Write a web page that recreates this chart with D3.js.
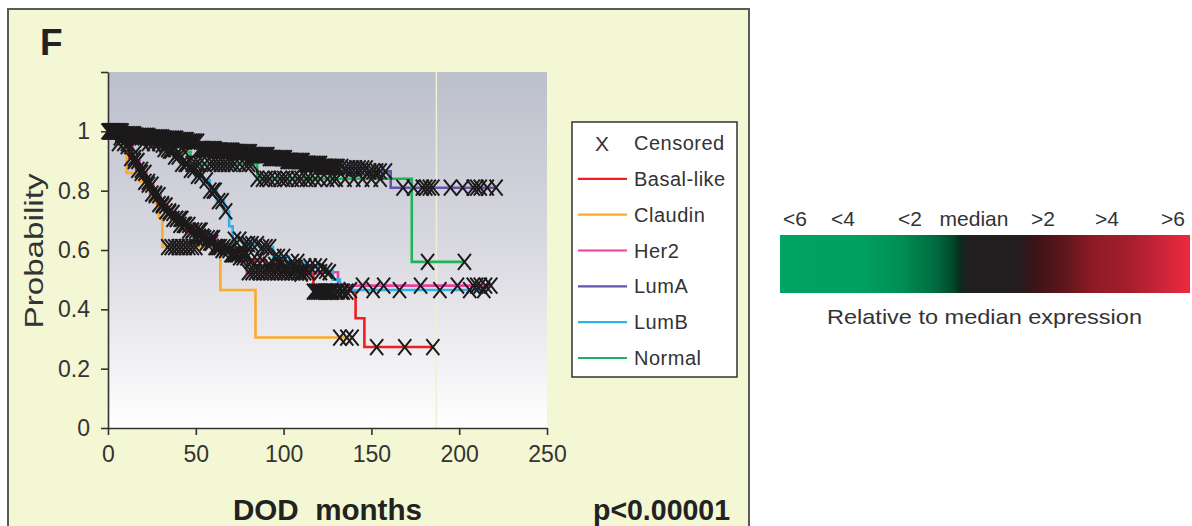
<!DOCTYPE html>
<html>
<head>
<meta charset="utf-8">
<script src="https://cdn.jsdelivr.net/npm/d3@7"></script>
<style>
  body { margin: 0; background: #fff; }
  svg { display: block; font-family: "Liberation Sans", Arial, sans-serif; }
  text { white-space: pre; }
</style>
</head>
<body>
<div id="chart"></div>
<script>
// Kaplan-Meier steps: [months, probability]
const basalSteps = [[0,1],[8,0.96],[12,0.91],[16,0.87],[20,0.83],[24,0.79],[28,0.755],[32,0.73],[36,0.705],[40,0.685],[45,0.665],[50,0.645],[55,0.625],[60,0.61],[65,0.6],[70,0.585],[75,0.575],[80,0.565],[90,0.55],[100,0.54],[110,0.52],[117,0.46],[141,0.37],[146,0.273]];
const claudinSteps = [[0,1],[5,0.96],[10.6,0.86],[18,0.83],[22,0.8],[26,0.76],[29,0.71],[31,0.61],[64,0.465],[84,0.305]];
const her2Steps = [[0,1],[6,0.98],[10,0.95],[14,0.9],[18,0.86],[22,0.82],[26,0.785],[30,0.75],[34,0.725],[38,0.705],[43,0.685],[48,0.665],[55,0.64],[62,0.61],[70,0.585],[79,0.525],[131,0.48]];
const lumASteps = [[0,1],[8,0.99],[16,0.985],[24,0.98],[32,0.975],[40,0.97],[46,0.965],[52,0.94],[62,0.935],[72,0.93],[82,0.92],[92,0.91],[102,0.9],[112,0.89],[122,0.88],[135,0.875],[148,0.865],[161,0.81]];
const lumBSteps = [[0,1],[8,0.99],[16,0.98],[24,0.97],[30,0.955],[34,0.935],[38,0.915],[42,0.89],[46,0.87],[50,0.85],[54,0.835],[58,0.8],[62,0.765],[66,0.73],[69,0.68],[71,0.635],[78,0.62],[86,0.61],[94,0.577],[103,0.56],[112,0.545],[122,0.53],[128,0.5],[132,0.465]];
const normalSteps = [[0,1],[10,0.98],[20,0.96],[30,0.94],[39,0.93],[47,0.89],[85,0.84],[173,0.56]];

// last follow-up time of each group
const endTimes = [185, 139, 218, 221, 214, 203];

// censored times (months)
const basalCens = [2,4,6,9,11,13,15,17,19,21,23,25,27,29,31,33,35,37,39,41,43,44,46,48,50,52,54,56,58,59,61,63,65,67,69,71,73,75,77,79,82,85,88,92,95,98,101,104,107,110,117,118,119,120,121,122,123,124,125,126,127,128,130,131,133,134,136,153,169,185];
const claudinCens = [2,6,34,36,38,40,42,44,46,48,50,132,136,139];
const her2Cens = [1,3,5,7,9,11,13,15,17,19,21,23,25,27,29,31,33,35,37,39,41,42,44,46,48,50,52,53,55,57,59,60,62,64,66,68,70,72,74,76,78,80,82,84,86,88,90,92,94,96,98,100,102,104,106,108,110,112,114,121,126,145,157,178,199,208,210,212,215,218];
const lumACens = [0,1,2,3,4,5,6,7,8,9,10,11,12,13,14,15,16,17,18,19,20,21,22,23,24,25,26,27,28,29,30,31,32,33,34,35,36,37,38,39,40,41,42,43,44,45,46,47,48,49,50,51,52,53,54,55,56,57,58,59,60,61,62,63,64,65,66,67,68,69,70,71,72,73,74,75,76,77,78,79,80,81,82,83,84,85,86,87,88,89,90,91,92,93,94,95,96,97,98,99,100,101,102,103,104,105,106,107,108,109,110,111,112,113,114,115,116,117,118,119,120,121,122,123,124,125,126,127,128,129,130,131,133,135,137,139,141,143,145,147,149,151,153,155,158,168,174,179,181,183,185,195,202,208,210,212,216,221];
const lumBCens = [1,3,5,7,9,11,13,15,17,19,22,25,27,29,31,33,35,36,38,40,42,44,45,47,49,51,53,56,58,60,61,63,65,67,72,75,78,80,82,85,88,90,92,95,97,100,105,108,112,115,118,121,124,138,151,166,189,206,214];
const normalCens = [1,3,5,8,11,14,17,20,23,26,29,32,34,36,38,40,44,48,50,52,55,58,60,62,64,66,68,70,72,75,78,80,82,85,88,90,92,95,98,100,102,105,108,110,113,115,118,121,125,128,130,135,140,145,150,155,182,203];

const groups = ["Basal-like", "Claudin", "Her2", "LumA", "LumB", "Normal"];
const xTicks = [0, 50, 100, 150, 200, 250];
const yTicks = [0, 0.2, 0.4, 0.6, 0.8, 1, 1.2];
const colorLabels = ["<6", "<4", "<2", "median", ">2", ">4", ">6"];
const colorValues = [-6, -4, -2, 0, 2, 4, 6];

const allSteps = [basalSteps, claudinSteps, her2Steps, lumASteps, lumBSteps, normalSteps];
const allCens = [basalCens, claudinCens, her2Cens, lumACens, lumBCens, normalCens];
const groupColors = ["#f21d23", "#fbab2b", "#ef3f9c", "#6651ae", "#2ab4ee", "#1db45a"];

const width = 1192, height = 526;

const svg = d3.select("#chart").append("svg")
  .attr("width", width)
  .attr("height", height);

const defs = svg.append("defs");

const bgGrad = defs.append("linearGradient")
  .attr("id", "plotbg").attr("x1", 0).attr("y1", 0).attr("x2", 0).attr("y2", 1);
bgGrad.append("stop").attr("offset", 0).attr("stop-color", "#bcc0cc");
bgGrad.append("stop").attr("offset", 0.5).attr("stop-color", "#d9d9e0");
bgGrad.append("stop").attr("offset", 1).attr("stop-color", "#ffffff");

const cbGrad = defs.append("linearGradient")
  .attr("id", "cbar").attr("x1", 0).attr("y1", 0).attr("x2", 1).attr("y2", 0);
[[0, "#00a462"], [0.2, "#00a060"], [0.3, "#008d53"], [0.38, "#006a3f"], [0.42, "#004a2c"],
 [0.44, "#0d2a1c"], [0.46, "#231f20"], [0.58, "#231f20"], [0.62, "#3a1418"], [0.7, "#62161d"],
 [0.76, "#8c1a24"], [0.86, "#a81f2f"], [0.94, "#d02539"], [1, "#ef2a3d"]]
  .forEach(s => cbGrad.append("stop").attr("offset", s[0]).attr("stop-color", s[1]));

// panel
svg.append("rect")
  .attr("x", 8).attr("y", 9).attr("width", 741).attr("height", 560)
  .attr("fill", "#f3f7d3").attr("stroke", "#5a5a5a").attr("stroke-width", 2);

svg.append("text")
  .attr("x", 40).attr("y", 55)
  .attr("font-size", 37).attr("font-weight", "bold").attr("fill", "#222")
  .text("F");

const x = d3.scaleLinear().domain([0, 250]).range([108, 547]);
const y = d3.scaleLinear().domain([0, 1.2]).range([428, 72]);

svg.append("rect")
  .attr("x", x(0)).attr("y", y(1.2))
  .attr("width", x(250) - x(0)).attr("height", y(0) - y(1.2))
  .attr("fill", "url(#plotbg)");

svg.append("line")
  .attr("x1", x(187)).attr("x2", x(187)).attr("y1", y(1.2)).attr("y2", y(0))
  .attr("stroke", "#eef0d6").attr("stroke-width", 1.5);

const yAxis = svg.append("g")
  .attr("transform", `translate(${x(0)},0)`)
  .call(d3.axisLeft(y).tickValues(yTicks).tickSize(7).tickSizeOuter(0).tickPadding(11)
    .tickFormat(d => d === 1.2 ? "" : d3.format("~g")(d)));

const xAxis = svg.append("g")
  .attr("transform", `translate(0,${y(0)})`)
  .call(d3.axisBottom(x).tickValues(xTicks).tickSize(7).tickSizeOuter(0).tickPadding(11));

[xAxis, yAxis].forEach(g => {
  g.select(".domain").attr("stroke", "#333").attr("stroke-width", 1.6);
  g.selectAll(".tick line").attr("stroke", "#333").attr("stroke-width", 1.6);
  g.selectAll(".tick text").attr("font-size", 23).attr("fill", "#333")
    .attr("font-family", "'Liberation Sans', Arial, sans-serif");
});

const line = d3.line()
  .x(d => x(d[0]))
  .y(d => y(d[1]))
  .curve(d3.curveStepAfter);

const survAt = (steps, t) => steps[d3.bisector(d => d[0]).right(steps, t) - 1][1];

allSteps.forEach((steps, i) => {
  const pts = steps.concat([[endTimes[i], steps[steps.length - 1][1]]]);
  svg.append("path")
    .attr("d", line(pts))
    .attr("fill", "none")
    .attr("stroke", groupColors[i])
    .attr("stroke-width", 2.6);
});

const marks = svg.append("g");
allCens.forEach((cens, i) => {
  marks.selectAll(null)
    .data(cens)
    .enter().append("path")
    .attr("transform", t => `translate(${x(t)},${y(survAt(allSteps[i], t))})`)
    .attr("d", "M-6.5,-8L6.5,8M-6.5,8L6.5,-8")
    .attr("fill", "none")
    .attr("stroke", "#1c1a1b")
    .attr("stroke-width", 2);
});

// axis titles
svg.append("text")
  .attr("transform", "translate(43,251) rotate(-90)")
  .attr("text-anchor", "middle")
  .attr("font-size", 26).attr("fill", "#333")
  .attr("textLength", 155).attr("lengthAdjust", "spacingAndGlyphs")
  .text("Probability");

svg.append("text")
  .attr("x", 233).attr("y", 520)
  .attr("font-size", 30).attr("font-weight", "bold").attr("fill", "#222")
  .attr("textLength", 189).attr("lengthAdjust", "spacingAndGlyphs")
  .text("DOD  months");

svg.append("text")
  .attr("x", 593).attr("y", 520)
  .attr("font-size", 30).attr("font-weight", "bold").attr("fill", "#222")
  .attr("textLength", 137).attr("lengthAdjust", "spacingAndGlyphs")
  .text("p<0.00001");

// legend
const legend = svg.append("g");
legend.append("rect")
  .attr("x", 572).attr("y", 122).attr("width", 165).attr("height", 255)
  .attr("fill", "#fff").attr("stroke", "#333").attr("stroke-width", 1.5);

const rowY = d3.scalePoint().domain(["Censored"].concat(groups)).range([143, 358]);

legend.append("text")
  .attr("x", 602).attr("y", rowY("Censored") + 8)
  .attr("text-anchor", "middle")
  .attr("font-size", 21).attr("fill", "#333")
  .text("X");

["Censored"].concat(groups).forEach(name => {
  legend.append("text")
    .attr("x", 634).attr("y", rowY(name) + 7)
    .attr("font-size", 20).attr("fill", "#333")
    .attr("letter-spacing", 0.5)
    .text(name);
});

groups.forEach((name, i) => {
  legend.append("line")
    .attr("x1", 578).attr("x2", 627)
    .attr("y1", rowY(name)).attr("y2", rowY(name))
    .attr("stroke", groupColors[i]).attr("stroke-width", 2.2);
});

// colour bar
svg.append("rect")
  .attr("x", 780).attr("y", 235).attr("width", 410).attr("height", 58)
  .attr("fill", "url(#cbar)");

const cx = d3.scaleLinear().domain(colorValues).range([795, 843, 910, 974, 1043, 1107, 1173]);

svg.selectAll(".cblab")
  .data(colorLabels)
  .enter().append("text")
  .attr("class", "cblab")
  .attr("x", (d, i) => cx(colorValues[i]))
  .attr("y", 226)
  .attr("text-anchor", "middle")
  .attr("font-size", 21).attr("fill", "#333")
  .text(d => d);

svg.append("text")
  .attr("x", 827).attr("y", 324)
  .attr("font-size", 21).attr("fill", "#333")
  .attr("textLength", 315).attr("lengthAdjust", "spacingAndGlyphs")
  .text("Relative to median expression");
</script>
</body>
</html>
